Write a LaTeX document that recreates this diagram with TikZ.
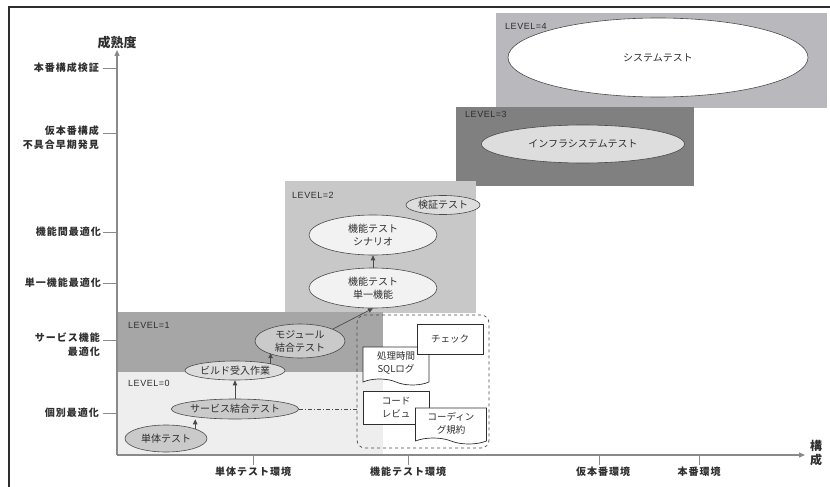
\documentclass[tikz,border=0pt]{standalone}
\usepackage{fontspec}
\usetikzlibrary{shapes.geometric,shapes.symbols,arrows.meta}
\newfontfamily\jp{Noto Sans CJK JP}
\newfontfamily\jpax[LetterSpace=10]{Noto Sans CJK JP}
\newfontfamily\lv[LetterSpace=6]{Liberation Sans}
\definecolor{lvA}{HTML}{EEEEEE}
\definecolor{lvB}{HTML}{A6A6A6}
\definecolor{lvC}{HTML}{C8C8C8}
\definecolor{lvD}{HTML}{808080}
\definecolor{lvE}{HTML}{B9B9BD}
\definecolor{ellG}{HTML}{CACACA}
\definecolor{ellL}{HTML}{F2F2F2}
\definecolor{ellD}{HTML}{DDDDDD}
\definecolor{axisC}{HTML}{8A8A8A}
\definecolor{inkC}{HTML}{2E2E2E}
\definecolor{edgeC}{HTML}{4A4A4A}
\begin{document}
\begin{tikzpicture}[x=1pt,y=-1pt,
  every node/.style={text=inkC},
  ell/.style={ellipse,draw=edgeC,line width=0.6pt,inner sep=0pt,align=center,
    font=\jp\fontsize{10}{13}\selectfont},
  ellgrey/.style={ell,fill=ellG},
  elllight/.style={ell,fill=ellL},
  elldot/.style={ell,fill=ellD},
  ellwhite/.style={ell,fill=white},
  lvl/.style={anchor=west,inner sep=0pt,font=\lv\fontsize{9}{11}\selectfont},
  ylab/.style={anchor=east,inner sep=0pt,align=right,font=\jpax\bfseries\fontsize{10}{14}\selectfont},
  ylab2/.style={anchor=north east,inner sep=0pt,align=right,font=\jpax\bfseries\fontsize{10}{14}\selectfont},
  xlab/.style={anchor=north,inner sep=0pt,font=\jpax\bfseries\fontsize{10}{12}\selectfont},
  axis/.style={draw=axisC,line width=1.3pt},
  tick/.style={draw=axisC,line width=0.9pt},
  arr/.style={draw=edgeC,line width=0.7pt,-{Triangle[length=5pt,width=4.5pt]}},
  paper/.style={draw=inkC,line width=0.7pt,fill=white,inner sep=0pt,align=center,
    font=\jp\fontsize{9.5}{13}\selectfont},
  docu/.style={paper,tape,tape bend top=none,tape bend bottom=out and in,tape bend height=6pt},
]
\useasboundingbox (0,0) rectangle (830,487);
% frame
\draw[line width=1.3pt,draw=inkC] (9,487) -- (9,7) -- (830,7);

% level boxes
\fill[lvE] (496,13) rectangle (827,108);
\fill[lvD] (456,107) rectangle (694,186);
\fill[lvC] (285,181) rectangle (476,313);
\fill[lvB] (117,312) rectangle (383,372);
\fill[lvA] (117,372) rectangle (383,455);

\node[lvl] (l4) at (505,26) {LEVEL=4};
\node[lvl] (l3) at (465,114) {LEVEL=3};
\node[lvl] (l2) at (292,195) {LEVEL=2};
\node[lvl] (l1) at (128,325) {LEVEL=1};
\node[lvl] (l0) at (128,383) {LEVEL=0};

% axes
\coordinate (org) at (117,455);
\coordinate (ytop) at (117,50);
\coordinate (xend) at (805,455);
\draw[axis,-{Triangle[length=6pt,width=5pt]}] (org) -- (ytop);
\draw[axis,-{Triangle[length=6pt,width=5pt]}] (org) -- (xend);
\node[font=\jp\bfseries\fontsize{13}{14}\selectfont,inner sep=0pt] (ytitle) at (117,43) {成熟度};
\node[font=\jp\bfseries\fontsize{12}{14}\selectfont,inner sep=0pt,align=center] (xtitle) at (816,453) {構\\成};

% y ticks
\foreach \yy in {68,133,232,283,340,413} \draw[tick] (103,\yy) -- (117,\yy);
\node[ylab] (y1) at (99,68) {本番構成検証};
\node[ylab2] (y2) at (99,126) {仮本番構成\\不具合早期発見};
\node[ylab] (y3) at (101,232) {機能間最適化};
\node[ylab] (y4) at (101,283) {単一機能最適化};
\node[ylab2] (y5) at (100,333) {サービス機能\\最適化};
\node[ylab] (y6) at (99,413) {個別最適化};

% x ticks
\foreach \xx in {253,408,599,699} \draw[tick] (\xx,455) -- (\xx,465);
\node[xlab] (x1) at (253,467) {単体テスト環境};
\node[xlab] (x2) at (408,467) {機能テスト環境};
\node[xlab] (x3) at (603,467) {仮本番環境};
\node[xlab] (x4) at (699,467) {本番環境};

% ellipses
\node[ellwhite,minimum width=300pt,minimum height=79pt] (sys) at (658,57.5) {システムテスト};
\node[elldot,minimum width=203pt,minimum height=38pt] (infra) at (583,144) {インフラシステムテスト};
\node[elldot,minimum width=74pt,minimum height=19pt] (kensho) at (443,205) {検証テスト};
\node[elllight,minimum width=128pt,minimum height=40pt] (scen) at (373,235) {機能テスト\\シナリオ};
\node[elllight,minimum width=128pt,minimum height=40pt] (single) at (373,288) {機能テスト\\単一機能};
\node[ellgrey,minimum width=90pt,minimum height=34pt] (module) at (300,341) {モジュール\\結合テスト};
\node[elldot,minimum width=100pt,minimum height=19pt] (build) at (235,370.5) {ビルド受入作業};
\node[ellgrey,minimum width=115pt,minimum height=20pt] (service) at (235,409) {サービス結合テスト};
\node[ellgrey,minimum width=82pt,minimum height=27pt] (tantai) at (166,438.5) {単体テスト};

% arrows
\draw[arr] (tantai.north east) -- (service.south -| tantai.north east);
\draw[arr] (service.north) -- (build.south);
\draw[arr] (build.north east) -- (module.south west -| build.north east);
\draw[arr] (module.20) -- (single.south);
\draw[arr] (single.north) -- (scen.south);

% dashed group
\node[draw=edgeC,dashed,line width=0.7pt,rounded corners=8pt,minimum width=132pt,minimum height=133pt,inner sep=0pt] (grp) at (423,381.5) {};
\draw[draw=edgeC,line width=0.6pt,dash pattern=on 4pt off 2pt on 1pt off 2pt] (service.east) -- (grp.west |- service.east);

\node[docu,minimum width=66pt,minimum height=38pt] (sql) at (396,363) {処理時間\\SQLログ};
\node[paper,minimum width=66pt,minimum height=30pt] (check) at (450,339) {チェック};
\node[paper,minimum width=66pt,minimum height=33pt] (review) at (396,407.5) {コード\\レビュ};
\node[docu,minimum width=71pt,minimum height=36pt] (rule) at (451,423) {コーディン\\グ規約};
\end{tikzpicture}
\end{document}
